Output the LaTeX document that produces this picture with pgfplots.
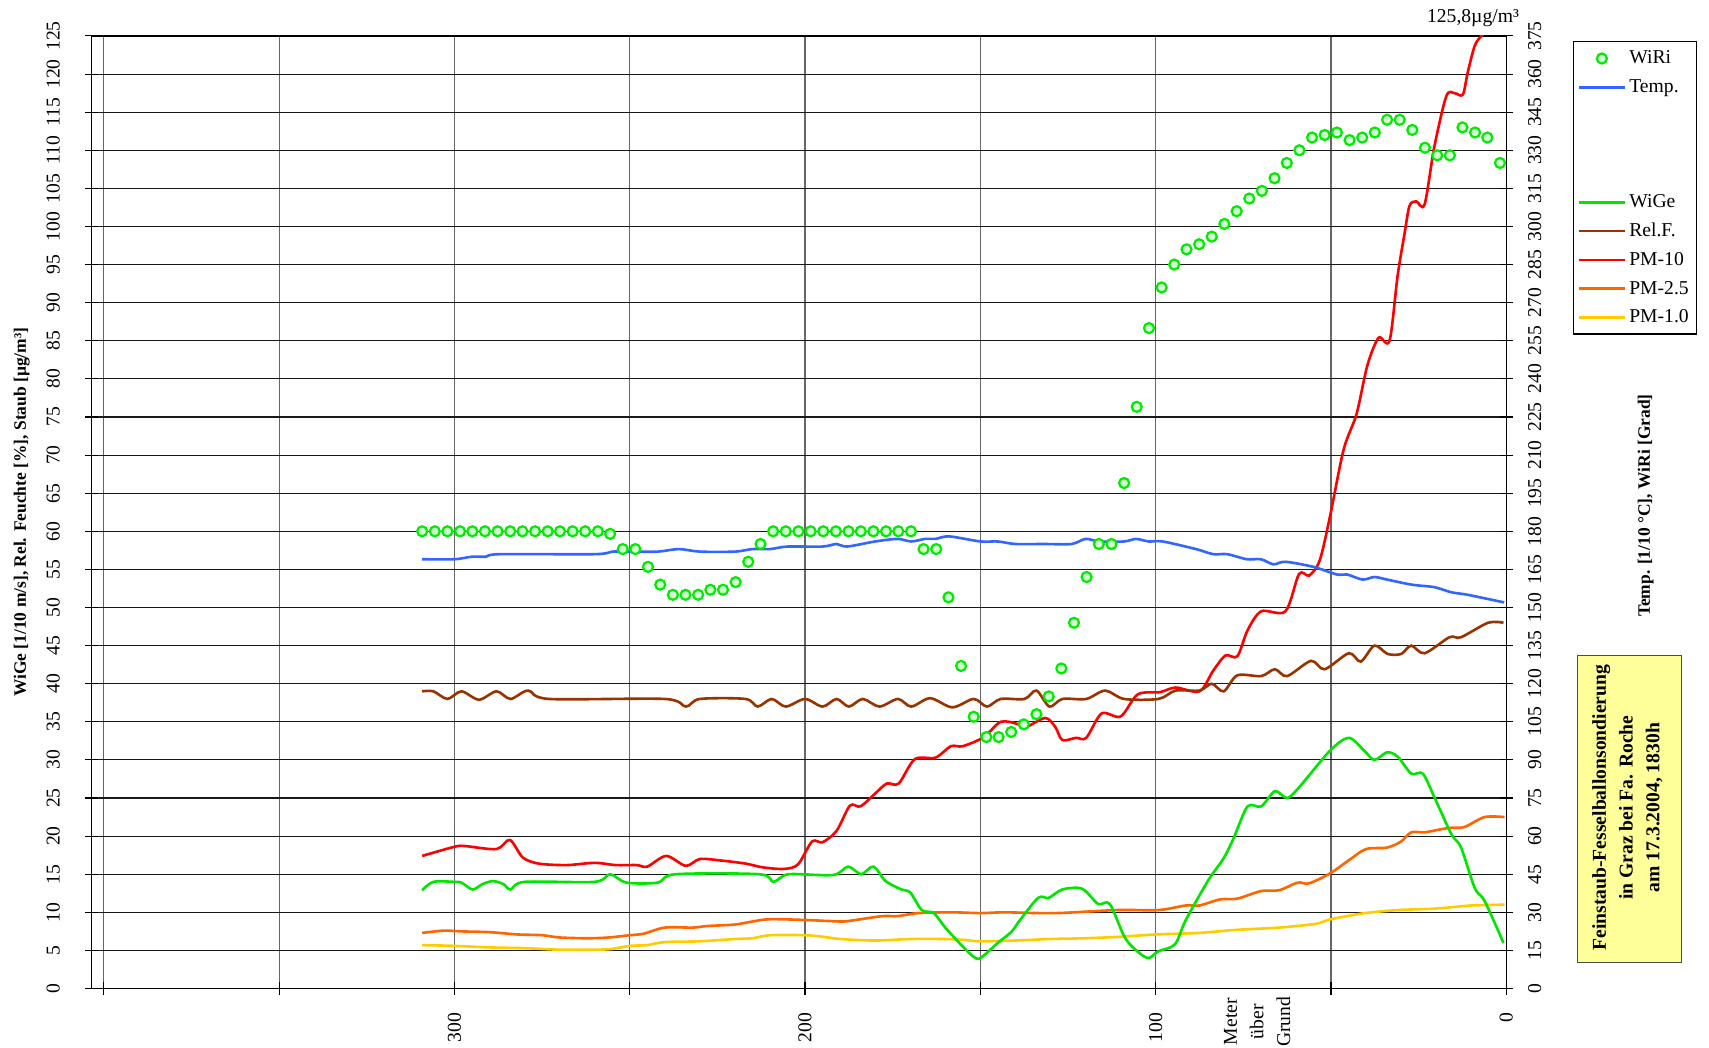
\documentclass[border=0pt]{standalone}
\usepackage{fontspec}
\setmainfont{Liberation Serif}
\usepackage{pgfplots}
\pgfplotsset{compat=1.18}

\definecolor{wiri}{RGB}{0,235,0}
\definecolor{wirifill}{RGB}{210,255,210}
\definecolor{temp}{RGB}{51,102,255}
\definecolor{wige}{RGB}{0,230,0}
\definecolor{relf}{RGB}{153,51,0}
\definecolor{pmten}{RGB}{255,0,0}
\definecolor{pmtwo}{RGB}{255,102,0}
\definecolor{pmone}{RGB}{255,204,0}
\definecolor{notebox}{RGB}{255,255,153}

\pgfplotsset{
  common/.style={
    scale only axis, width=649pt, height=437pt,
    at={(0,0)}, anchor=south west,
    xmin=0, xmax=403.5, x dir=reverse,
    tick align=center, major tick length=6pt,
    /pgf/number format/assume math mode=true,
    tick label style={font=\fontsize{9}{10}\selectfont},
    tick style={black, line width=0.5pt},
  },
  ser/.style={line width=1.2pt, smooth, no markers},
  legend image code/.code={\draw[mark repeat=2, mark phase=2, #1] plot coordinates {(0pt,0pt) (10.5pt,0pt) (21pt,0pt)};},
}

\begin{document}
\begin{tikzpicture}
\useasboundingbox (-42pt,-27pt) rectangle (742pt,453.5pt);

% left axis: wind speed, humidity, dust
\begin{axis}[common,
  ymin=0, ymax=125, ytick={0,5,...,125},
  xtick={0,50,...,400}, xticklabels={0,,100,,200,,300,,},
  xtick pos=left, ytick pos=left,
  xticklabel style={rotate=90, anchor=east}, xticklabel shift=4.5pt,
  yticklabel style={rotate=90, anchor=south}, yticklabel shift=8pt,
  xmajorgrids, ymajorgrids,
  x grid style={black!60, line width=0.5pt},
  y grid style={black!90, line width=0.5pt},
  axis line style={black, line width=0.6pt},
]
\addplot[ser, pmone] coordinates {
(309.2,5.7)(300,5.6)(290,5.4)(280,5.3)(270,5.1)(260,5.1)(255,5.2)(250,5.6)(245,5.7)(240,6.1)(230,6.2)(220,6.5)(215,6.6)(210,7.0)(200,7.0)(195,6.8)(190,6.5)(180,6.3)(170,6.5)(160,6.5)(155,6.4)(150,6.2)(140,6.3)(130,6.5)(120,6.6)(110,6.8)(100,7.1)(87.6,7.3)(77.1,7.7)(64.8,8.0)(54.3,8.5)(50,9.1)(40.3,9.9)(30.8,10.3)(20,10.5)(10,10.9)(0.5,11.0)};
\addplot[ser, pmtwo] coordinates {
(309.2,7.3)(303,7.6)(298,7.5)(290,7.4)(282,7.1)(275,7.0)(270,6.7)(262,6.6)(256,6.7)(250,7.0)(246,7.2)(240,8.0)(232,8.0)(228,8.2)(220,8.4)(215,8.8)(210,9.1)(200,9.0)(190,8.8)(187,8.9)(178,9.5)(173.6,9.5)(167.7,9.9)(158,10.0)(150,9.9)(143,10.0)(128.6,9.9)(111,10.3)(99.2,10.3)(91.4,10.9)(87.5,10.9)(81.6,11.7)(76.7,11.8)(69.9,12.8)(64.8,12.9)(59.5,13.9)(56.3,13.8)(50.3,15.1)(45,16.8)(40,18.3)(34,18.5)(30,19.3)(27.1,20.5)(23.3,20.5)(18.6,20.9)(15.7,21.1)(11.9,21.2)(6.2,22.5)(0.5,22.5)};
\addplot[ser, pmten] coordinates {
(309.2,17.4)(300,18.6)(297,18.7)(288,18.3)(284.2,19.5)(280.5,17.2)(276,16.4)(268,16.2)(260,16.5)(254,16.2)(248,16.2)(245,16.0)(239.6,17.4)(234,16.1)(230,17.0)(224,16.8)(217,16.4)(212,15.9)(206,15.7)(202,16.3)(198,19.3)(195,19.2)(191,20.7)(187.2,24.0)(184.2,23.9)(180.2,25.5)(176.7,26.9)(173.3,26.9)(168.7,30.1)(162.8,30.3)(158.4,31.8)(155,31.8)(149,33.0)(144.2,35.0)(139.3,34.7)(137.4,34.2)(131.5,35.5)(128.6,34.3)(126.6,32.6)(122.7,32.9)(119.8,32.9)(115.4,36.1)(110,35.7)(105.1,38.6)(98.7,38.9)(94.3,39.5)(87.5,39.0)(83.6,41.7)(80.1,43.7)(76.7,43.6)(73.8,47.0)(69.9,49.5)(63,49.5)(59.1,54.4)(56.2,54.2)(53.2,56.2)(50.3,61.9)(46.4,70.7)(42.7,75.4)(39.6,81.8)(36.4,85.4)(33.3,85.0)(31,93.5)(29,99.1)(27.6,102.7)(25.7,103.3)(23.3,102.9)(20.5,110.5)(17.1,117.1)(14.8,117.5)(12.4,117.3)(11,120.2)(9,123.7)(7.1,125.0)(5,125.8)(1,125.6)};
\addplot[ser, relf] coordinates {
(309.2,39.0)(306,39.0)(302,38.0)(298,39.0)(293,37.9)(288,39.0)(284,38.0)(279,39.1)(273,38.0)(240,38.0)(234,37.0)(230,38.0)(217,38.0)(213.5,37.0)(209.5,38.0)(205.5,37.0)(200,38.0)(195,37.0)(191,38.0)(187.5,37.0)(183.5,38.0)(178.8,37.0)(173.5,38.0)(169.7,37.0)(164.3,38.1)(158,36.9)(151.9,38.0)(148.1,37.0)(144.2,38.0)(137.4,38.0)(134,39.1)(130.3,37.0)(126.6,38.0)(119.8,38.0)(114.4,39.1)(109,38.0)(99.2,38.0)(94.3,39.1)(87.5,39.1)(84,40.0)(80.6,39.0)(76.7,41.1)(69.9,41.0)(66,41.9)(62.5,41.0)(55.7,43.0)(51.8,41.9)(44.9,44.0)(41.5,42.9)(37.6,45.0)(33.8,43.9)(30,43.9)(27.1,45.0)(23.3,44.0)(16.2,46.1)(12.9,46.1)(5.2,48.0)(0.8,48.0)};
\addplot[ser, wige] coordinates {
(309.2,12.9)(306,14.0)(300,14.0)(298,13.9)(294.8,13.0)(292,13.7)(289,14.1)(286,13.7)(284,13.0)(280,14.0)(260,14.0)(255.6,15.0)(251,13.9)(242,13.9)(237,15.0)(213,15.0)(209,14.0)(204.7,15.0)(192,14.9)(187.7,16.0)(184,15.0)(180.5,16.0)(177,14.1)(172.5,13.0)(170,12.6)(166.7,10.3)(163.3,9.9)(160,8.0)(155,5.5)(152,4.2)(150,4.0)(145,6.0)(141,7.5)(139,8.8)(133.5,11.9)(130.5,11.9)(126.6,13.0)(121,13.1)(116.4,11.1)(113.1,11.1)(108.8,6.7)(105,4.8)(102,4.0)(99.2,4.9)(94.5,5.8)(91.4,9.0)(85,14.2)(80.6,17.1)(77.7,19.8)(73.8,23.9)(69.9,23.9)(66,25.9)(62.5,25.0)(59.1,26.4)(50.3,31.2)(44.9,32.9)(40.5,31.2)(37.6,30.0)(34,31.0)(30.9,30.4)(27.1,28.2)(23.8,28.2)(20.5,25.1)(15.7,20.3)(12.9,18.5)(9,13.2)(6.2,11.5)(0.8,6.0)};
\end{axis}

% right axis: temperature, wind direction
\begin{axis}[common,
  ymin=0, ymax=375, ytick={0,15,...,375},
  axis y line*=right, axis x line=none,
  yticklabel style={rotate=90, anchor=north}, yticklabel shift=3.5pt,
  axis line style={black, line width=0.6pt},
  legend style={at={(axis description cs:1.047,0.9943)}, anchor=north west,
    draw=black, line width=0.5pt, fill=white,
    font=\fontsize{9}{10}\selectfont, inner xsep=2pt, inner ysep=1pt,
    nodes={text height=7pt, text depth=2pt, inner ysep=2.1pt, inner xsep=1.5pt},
    row sep=0pt, /tikz/every even column/.append style={column sep=0pt}},
  legend cell align=left,
]
\addplot[only marks, mark=*, mark size=2.3pt, mark options={draw=wiri, fill=wirifill, line width=1pt}] coordinates {
(309.2,180)(305.6,180)(302.0,180)(298.4,180)(294.9,180)(291.3,180)(287.7,180)(284.1,180)(280.6,180)(277.0,180)(273.4,180)(269.9,180)(266.3,180)(262.7,180)(259.1,180)(255.6,179)(252.0,173)(248.4,173)(244.8,166)(241.3,159)(237.7,155)(234.1,155)(230.5,155)(227.0,157)(223.4,157)(219.8,160)(216.2,168)(212.7,175)(209.1,180)(205.5,180)(201.9,180)(198.4,180)(194.8,180)(191.2,180)(187.6,180)(184.1,180)(180.5,180)(176.9,180)(173.4,180)(169.8,180)(166.2,173)(162.6,173)(159.1,154)(155.5,127)(151.9,107)(148.3,99)(144.8,99)(141.2,101)(137.6,104)(134.0,108)(130.5,115)(126.9,126)(123.3,144)(119.7,162)(116.2,175)(112.6,175)(109.0,199)(105.4,229)(101.9,260)(98.3,276)(94.7,285)(91.2,291)(87.6,293)(84.0,296)(80.4,301)(76.9,306)(73.3,311)(69.7,314)(66.1,319)(62.6,325)(59.0,330)(55.4,335)(51.8,336)(48.3,337)(44.7,334)(41.1,335)(37.5,337)(34.0,342)(30.4,342)(26.8,338)(23.2,331)(19.7,328)(16.1,328)(12.5,339)(8.9,337)(5.4,335)(1.8,325)};
\addlegendentry{WiRi}
\addplot[ser, temp] coordinates {
(309.2,169)(300,169)(295,170)(291,170)(287,171)(260,171)(255,172)(250,172)(242,172)(236,173)(230,172)(220,172)(215,173)(210,173)(205,174)(195,174)(191,175)(188,174)(180,176)(173.6,177)(169.7,176)(165.8,177)(162.8,177)(158.9,178)(150,176)(145,176)(140,175)(132,175)(124,175)(120,177)(116,176)(109,176)(105.6,177)(102,176)(98,176)(88.5,173)(83.6,171)(79.6,171)(74,169)(70,169)(66.4,167)(63,168)(55,166)(48.3,163)(45.4,163)(41,161)(37.6,162)(34,161)(27,159)(20.5,158)(15.7,156)(11,155)(0.6,152)};
\addlegendentry{Temp.}
\addlegendimage{empty legend}\addlegendentry{}
\addlegendimage{empty legend}\addlegendentry{}
\addlegendimage{empty legend}\addlegendentry{}
\addlegendimage{ser, wige}\addlegendentry{WiGe}
\addlegendimage{ser, relf}\addlegendentry{Rel.F.}
\addlegendimage{ser, pmten}\addlegendentry{PM-10}
\addlegendimage{ser, pmtwo}\addlegendentry{PM-2.5}
\addlegendimage{ser, pmone}\addlegendentry{PM-1.0}
\end{axis}

% axis titles and notes
\node[rotate=90, font=\bfseries\fontsize{8}{10}\selectfont] at (-32pt,218.5pt)
  {WiGe [1/10 m/s], Rel. Feuchte [\%], Staub [µg/m³]};
\node[rotate=90, font=\bfseries\fontsize{8}{10}\selectfont] at (713pt,221.5pt)
  {Temp. [1/10 °C], WiRi [Grad]};
\node[rotate=90, anchor=east, align=center, inner sep=0pt,
  font=\fontsize{9}{12.25}\selectfont] at (534.7pt,-3.5pt) {Meter\\über\\Grund};
\node[anchor=east, inner sep=0pt, font=\fontsize{9}{10}\selectfont] at (655pt,445pt) {125,8µg/m³};
\node[draw=black!70, fill=notebox, minimum width=48pt, minimum height=141pt, inner sep=0pt] at (705.5pt,82.5pt) {};
\node[rotate=90, align=center, font=\bfseries\fontsize{9}{12.25}\selectfont] at (704.5pt,83pt)
  {Feinstaub-Fesselballonsondierung\\in Graz bei Fa. Roche\\am 17.3.2004, 1830h};
\end{tikzpicture}
\end{document}
